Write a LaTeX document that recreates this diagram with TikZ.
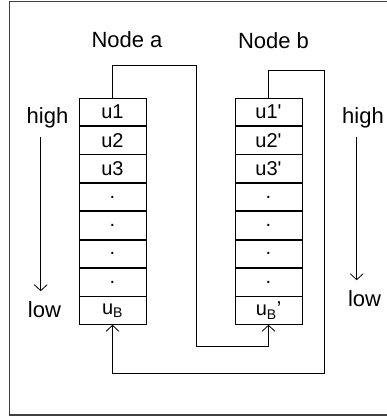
\documentclass[tikz,border=0pt]{standalone}
\usepackage{fontspec}
\setmainfont{Liberation Sans}
\usetikzlibrary{arrows.meta,positioning}

\begin{document}
\begin{tikzpicture}[x=1pt,y=-1pt,
      cell/.style={
         draw=black,
         line width=0.8pt,
         minimum width=67pt,
         minimum height=27.6pt,
         inner sep=0pt,
         font=\fontsize{20}{22}\selectfont},
      lbl/.style={
         inner sep=0pt,
         font=\fontsize{22}{24}\selectfont},
      myarrow/.style={-{Straight Barb[length=6pt,width=13pt]}, line width=0.8pt},
      node distance=0pt
      ]
      \useasboundingbox (0,0) rectangle (387,417);
      \draw[line width=1.4pt, black!75] (9.5,1.5) rectangle (395,415);

      \node[cell] (a1) at (112.5,111.8) {u1};
      \node[cell] (b1) at (268.5,111.8) {u1\textquotesingle};

    \foreach \i/\j/\txt/\ptxt in {% new cell/cell above/text a/text b
	  2/1/u2/u2\textquotesingle,
	3/2/u3/u3\textquotesingle,
	4/3/./.,
	5/4/./.,
	6/5/./.,
	7/6/./.,
	8/7/u\textsubscript{B}/u\textsubscript{B}’}
       {\node[cell, below = of a\j] (a\i) {\txt};
        \node[cell, below = of b\j] (b\i) {\ptxt};}

      \node[lbl] (nodea) at (127,40) {Node a};
      \node[lbl] (nodeb) at (273.5,41) {Node b};
      \node[lbl] (highl) at (47.5,117.5) {high};
      \node[lbl] (lowl) at (44.5,309.5) {low};
      \node[lbl] (highr) at (363,117.5) {high};
      \node[lbl] (lowr) at (364.5,298.5) {low};
%
\draw[myarrow] ([xshift=-6.8pt,yshift=-9pt]highl.south) -- ([xshift=-3.8pt,yshift=10pt]lowl.north);
\draw[myarrow] ([xshift=-6.3pt,yshift=-9pt]highr.south) -- ([xshift=-7.8pt,yshift=10pt]lowr.north);
%
\draw[myarrow] (a1.north) -- ++(0,-32) -- ++(84,0) -- ++(0,281) -| (b8.south);
\draw[myarrow] (b1.north) -- ++(0,-27) -- ++(56,0) -- ++(0,303) -| (a8.south);

    \end{tikzpicture}
\end{document}
